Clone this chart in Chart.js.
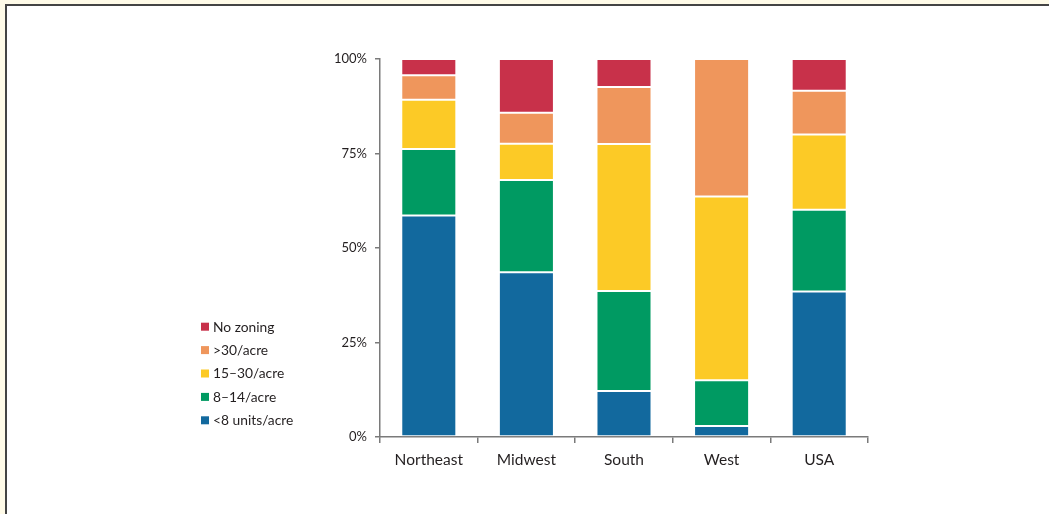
<!DOCTYPE html>
<html>
<head>
<meta charset="utf-8">
<title>Zoning by region</title>
<script src="https://cdn.jsdelivr.net/npm/chart.js@4.4.1/dist/chart.umd.min.js"></script>
<style>
  html, body { margin: 0; padding: 0; }
  body { background: #fffbe8; width: 1049px; height: 514px; overflow: hidden; position: relative; }
  #frame { position: absolute; left: 5px; top: 4px; width: 1100px; height: 600px; background: #fff;
           border-left: 2px solid #444; border-top: 2px solid #444; }
  #chart { position: absolute; left: 0; top: 0; }
</style>
</head>
<body>
<div id="frame"></div>
<canvas id="chart" width="1049" height="514"></canvas>
<script>
// Share of land by allowed density (%)
const regions = ["Northeast", "Midwest", "South", "West", "USA"];
const under8 = [58.6, 43.6, 12.2, 2.9, 38.5];
const from8to14 = [17.6, 24.4, 26.4, 12.1, 21.6];
const from15to30 = [13.0, 9.6, 38.9, 48.6, 19.9];
const over30 = [6.5, 8.2, 15.1, 36.4, 11.6];
const noZoning = [4.3, 14.2, 7.4, 0, 8.4];
const yTicks = [0, 25, 50, 75, 100];

const textColor = "#231f20";
const axisColor = "#7a7a7a";
const fontFamily = "Lato, 'Open Sans', sans-serif";

// Legend drawn at the left, top entry = top of the stack
const sideLegend = {
    id: "sideLegend",
    afterDraw(chart) {
        const ctx = chart.ctx;
        const sets = chart.data.datasets.slice().reverse();
        ctx.save();
        ctx.font = "13.8px " + fontFamily;
        ctx.textBaseline = "middle";
        sets.forEach((ds, i) => {
            const y = 326.7 + i * 23.4;
            ctx.fillStyle = ds.backgroundColor;
            ctx.fillRect(201, y - 4, 8, 8);
            ctx.fillStyle = textColor;
            ctx.fillText(ds.label, 213, y + 0.5);
        });
        ctx.restore();
    }
};

function series(label, data, color) {
    return {
        label: label,
        data: data,
        backgroundColor: color,
        borderColor: "rgba(255,255,255,0.8)",
        borderWidth: 1,
        borderSkipped: false,
        barPercentage: 1,
        categoryPercentage: 0.564
    };
}

const ctx = document.getElementById("chart").getContext("2d");
new Chart(ctx, {
    type: "bar",
    data: {
        labels: regions,
        datasets: [
            series("<8 units/acre", under8, "#12699e"),
            series("8–14/acre", from8to14, "#009a62"),
            series("15–30/acre", from15to30, "#fcca26"),
            series(">30/acre", over30, "#ef965c"),
            series("No zoning", noZoning, "#c8314a")
        ]
    },
    options: {
        responsive: false,
        animation: false,
        devicePixelRatio: 1,
        layout: { padding: { left: 320, right: 181, top: 59, bottom: 35 } },
        plugins: {
            legend: { display: false },
            tooltip: { enabled: false }
        },
        scales: {
            x: {
                stacked: true,
                ticks: { padding: 8, color: textColor, font: { family: fontFamily, size: 15.5 } },
                grid: { drawOnChartArea: false, tickLength: 6, color: axisColor, lineWidth: 1.5, offset: true },
                border: { color: axisColor, width: 1.5 },
                afterFit(scale) { scale.height = 42; }
            },
            y: {
                stacked: true,
                min: 0,
                max: 100,
                afterBuildTicks(scale) { scale.ticks = yTicks.map(v => ({ value: v })); },
                ticks: {
                    padding: 8,
                    color: textColor,
                    font: { family: fontFamily, size: 13 },
                    callback: v => v + "%"
                },
                grid: { drawOnChartArea: false, tickLength: 5, color: axisColor, lineWidth: 1.5 },
                border: { color: axisColor, width: 1.5 },
                afterFit(scale) {
                    scale.width = 60;
                    scale.paddingTop = 0;
                    scale.paddingBottom = 0;
                }
            }
        }
    },
    plugins: [sideLegend]
});
</script>
</body>
</html>
